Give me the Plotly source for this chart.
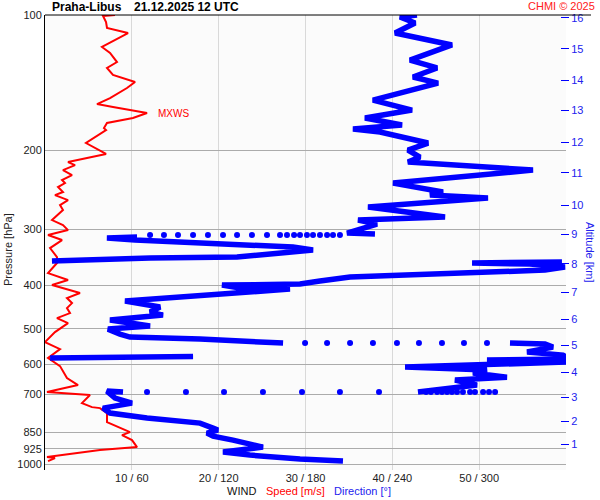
import numpy as np
import plotly.graph_objects as go

# ---------------- data ----------------
# wind speed profile (red)
speed_p = [100.0, 100.5, 103.7, 106.9, 109.7, 117.8, 121.5, 127.3, 131.2, 136.0, 141.0, 145.4,
           153.1, 157.9, 160.3, 165.3, 169.6, 174.0, 178.6, 180.4, 192.8, 203.9, 212.6, 215.9,
           221.5, 227.2, 233.1, 236.8, 241.6, 247.9, 251.8, 258.3, 265.0, 271.9, 286.2, 293.7,
           301.3, 309.0, 317.1, 330.4, 346.0, 356.7, 375.6, 389.3, 399.4, 416.1, 426.9, 438.1,
           449.4, 461.1, 473.1, 485.4, 508.3, 535.0, 554.6, 580.7, 605.1, 643.5, 667.0, 691.4,
           702.1, 731.6, 746.9, 750.6, 770.1, 806.4, 848.9, 862.0, 884.5, 916.7, 931.0, 965.0,
           969.8, 984.8]
speed_ms = [8.06, 6.68, 7.03, 7.14, 9.56, 6.56, 7.49, 8.29, 7.14, 7.83, 10.37, 9.44,
            7.49, 5.99, 7.83, 11.75, 10.13, 7.14, 6.79, 7.03, 4.72, 7.03, 2.65, 3.46,
            2.07, 3.11, 1.96, 2.30, 1.50, 2.07, 1.15, 2.65, 1.73, 2.07, 0.81, 2.07,
            2.65, 0.35, 1.96, 0.58, 1.38, 1.38, 0.35, 2.65, 0.81, 4.03, 2.53, 3.11,
            2.53, 2.88, 1.38, 2.65, 1.15, 0.0, 1.73, 0.35, 1.73, 2.53, 3.80, 0.23,
            5.18, 4.26, 5.41, 6.33, 7.14, 7.14, 9.79, 8.87, 10.02, 10.60, 6.33, 0.23,
            1.15, 0.35]

# wind direction profile (blue), None separates pieces of the trace
dir_p = [100.0, 101.0, 104.2, 109.7, 116.6, 126.0, 131.2, 137.4, 141.8, 154.7, 162.8, 169.6,
         175.8, 179.5, 182.2, 192.8, 199.9, 207.2, 212.6, 221.5, 236.8, 247.9, 251.8, 255.6,
         267.7, 281.8, 286.2, 292.1, 305.9, 307.4, None,
         312.2, 313.8, 317.1, 322.0, 328.7, 333.8, 337.2, 346.0, 347.8, 349.5, 353.1, None,
         354.9, 356.7, 358.6, 364.2, 369.8, 373.7, 375.6, 383.4, 391.3, 397.4, 399.4, 405.6,
         407.7, 416.1, 422.6, 433.6, 447.1, 458.7, 465.9, 478.0, 492.9, 500.6, 513.5, 521.5,
         526.9, 537.8, None,
         537.8, 540.5, 549.0, 563.1, 571.9, 577.8, None,
         576.0, 579.0, 580.5, None,
         583.7, 586.7, 592.8, 608.3, 617.6, 627.3, 640.7, 650.1, 667.0, 684.3, 691.4, None,
         691.4, 687.8, 712.9, 731.6, 750.6, 770.1, 790.1, 810.6, 831.7, 840.2, 853.3, 866.6,
         884.5, 916.7, 940.4, 955.1, 974.8, 984.8]
dir_deg = [257.0, 245.3, 255.7, 241.9, 281.2, 252.2, 270.9, 254.3, 271.6, 226.6, 253.6, 221.1,
           246.7, 212.8, 231.5, 264.7, 250.8, 259.1, 250.8, 337.2, 240.5, 275.0, 266.0, 306.1,
           223.2, 276.4, 216.3, 229.4, 208.7, 228.0, None,
           63.6, 42.8, 62.2, 107.1, 171.4, 185.2, 171.4, 132.7, 72.6, 34.6, 4.8, None,
           357.2, 295.1, 335.1, 359.3, 345.5, 307.5, 275.0, 210.8, 190.0, 176.2, 122.3, 134.7,
           169.3, 127.8, 93.3, 55.3, 79.5, 72.6, 81.5, 44.9, 72.6, 43.5, 51.8, 58.7,
           107.1, 164.5, None,
           321.3, 345.5, 351.0, 333.1, 357.9, 360.0, None,
           102.3, 10.4, 3.5, None,
           360.0, 305.4, 360.0, 248.8, 305.4, 295.7, 319.2, 283.3, 298.5, 266.0, 257.7, None,
           53.9, 42.8, 48.4, 60.1, 40.1, 44.9, 70.5, 107.1, 116.1, 119.5, 111.9, 116.1,
           129.9, 150.6, 123.0, 141.6, 176.2, 205.9]

# isolated direction samples where the direction turned quickly
jump_p = [309.0] * 19 + [537.8] * 9 + [691.4] * 20
jump_deg = [203.8, 199.0, 194.9, 190.0, 185.2, 181.0, 176.2, 172.1, 167.2, 162.4, 153.4, 143.0,
            132.7, 123.0, 112.6, 102.3, 91.9, 82.2, 72.6,
            179.7, 194.9, 210.8, 226.6, 243.2, 258.4, 274.3, 289.5, 305.4,
            263.3, 266.7, 270.9, 274.3, 277.8, 281.2, 284.7, 288.8, 293.7, 297.1, 302.7, 306.8,
            311.0, 230.8, 203.8, 177.6, 150.6, 123.7, 97.4, 70.5]

p_ticks = [100, 200, 300, 400, 500, 600, 700, 850, 925, 1000]
alt_km = list(range(1, 17))
alt_p = [902.6, 802.0, 709.1, 623.8, 543.2, 475.5, 414.0, 358.5, 307.4, 265.0,
         224.8, 191.8, 162.8, 139.6, 119.0, 101.5]
speed_ticks = [10, 20, 30, 40, 50, 60]
dir_ticks = [60, 120, 180, 240, 300, 360]

# ---------------- figure ----------------
BLUE = "#0000ff"
RED = "#ff0000"
FONT = "Arial, Liberation Sans, sans-serif"

fig = go.Figure()

fig.add_trace(go.Scatter(x=dir_deg, y=dir_p, xaxis="x2", yaxis="y", mode="lines",
                         line=dict(color=BLUE, width=5.5), connectgaps=False, hoverinfo="skip"))
fig.add_trace(go.Scatter(x=jump_deg, y=jump_p, xaxis="x2", yaxis="y", mode="markers",
                         marker=dict(color=BLUE, size=6), hoverinfo="skip"))
fig.add_trace(go.Scatter(x=speed_ms, y=speed_p, mode="lines",
                         line=dict(color=RED, width=2), hoverinfo="skip"))
# invisible anchor for the altitude axis
fig.add_trace(go.Scatter(x=[30], y=[500], yaxis="y2", mode="markers",
                         marker=dict(opacity=0), hoverinfo="skip"))

imax = int(np.argmax(speed_ms))
v_max, p_max = speed_ms[imax], speed_p[imax]

yrange = [np.log10(1031), 2]

tick_text = [f"{s} / {d}" if s < 60 else "" for s, d in zip(speed_ticks, dir_ticks)]

fig.update_layout(
    width=600, height=500,
    margin=dict(l=45, r=34, t=15, b=30),
    paper_bgcolor="#ffffff", plot_bgcolor="#fbfbfb",
    showlegend=False,
    font=dict(family=FONT, size=11, color="#222222"),
    xaxis=dict(range=[0, 60], tickvals=speed_ticks, ticktext=tick_text,
               showgrid=True, gridcolor="#d9d9d9", gridwidth=1, zeroline=False,
               showline=False, ticks="", tickfont=dict(size=11, color="#222222"),
               automargin=False),
    xaxis2=dict(range=[0, 360], overlaying="x", visible=False),
    yaxis=dict(type="log", range=yrange, tickvals=p_ticks,
               ticktext=[str(p) for p in p_ticks],
               showgrid=True, gridcolor="#ababab", gridwidth=1, zeroline=False,
               showline=True, linecolor="#000000", linewidth=1, ticks="",
               tickfont=dict(size=11, color="#222222"), automargin=False),
    yaxis2=dict(type="log", range=yrange, overlaying="y", side="right",
                anchor="free", position=0.9885, tickvals=alt_p,
                ticktext=[str(k) for k in alt_km],
                ticks="outside", ticklen=8, tickwidth=1, tickcolor=BLUE,
                tickfont=dict(size=11, color="#2222ee"),
                showgrid=False, showline=False, zeroline=False, automargin=False),
)

# top frame line (extends past the plot to the right)
fig.add_shape(type="line", xref="paper", yref="paper", x0=0, x1=1.048, y0=1, y1=1,
              line=dict(color="#000000", width=1))
# max wind markers
fig.add_shape(type="line", xref="paper", yref="y", x0=-0.004, x1=0.021,
              y0=np.log10(p_max), y1=np.log10(p_max), line=dict(color=RED, width=1))
fig.add_shape(type="line", xref="paper", yref="y", x0=0.979, x1=1.002,
              y0=np.log10(p_max), y1=np.log10(p_max), line=dict(color=RED, width=1))
fig.add_annotation(x=v_max, y=np.log10(p_max), xref="x", yref="y", text="MXWS",
                   showarrow=False, xanchor="left", yanchor="middle", xshift=9,
                   font=dict(size=10, color=RED, family=FONT))

# titles
fig.add_annotation(x=(50 - 45) / 521, y=1 + 8 / 455, xref="paper", yref="paper",
                   text="<b>Praha-Libus</b>", showarrow=False, xanchor="left", yanchor="middle",
                   font=dict(size=12, color="#000000", family=FONT))
fig.add_annotation(x=(132 - 45) / 521, y=1 + 8 / 455, xref="paper", yref="paper",
                   text="<b>21.12.2025 12 UTC</b>", showarrow=False, xanchor="left",
                   yanchor="middle", font=dict(size=12, color="#000000", family=FONT))
fig.add_annotation(x=(597 - 45) / 521, y=1 + 9 / 455, xref="paper", yref="paper",
                   text="CHMI © 2025", showarrow=False, xanchor="right", yanchor="middle",
                   font=dict(size=11, color="#ff2020", family=FONT))

fig.add_annotation(x=(8 - 45) / 521, y=(470 - 250) / 455, xref="paper", yref="paper",
                   text="Pressure [hPa]", showarrow=False, textangle=-90,
                   xanchor="center", yanchor="middle",
                   font=dict(size=11, color="#222222", family=FONT))
fig.add_annotation(x=(590 - 45) / 521, y=(470 - 252) / 455, xref="paper", yref="paper",
                   text="Altitude [km]", showarrow=False, textangle=90,
                   xanchor="center", yanchor="middle",
                   font=dict(size=11, color="#2222ee", family=FONT))

# bottom legend text
for txt, px, col in [("WIND", 225, "#111111"), ("Speed [m/s]", 264, RED),
                     ("Direction [°]", 332, "#2222ee")]:
    fig.add_annotation(x=(px - 45) / 521, y=(470 - 491) / 455, xref="paper", yref="paper",
                       text=txt, showarrow=False, xanchor="left", yanchor="middle",
                       font=dict(size=11, color=col, family=FONT))

fig.write_html("out.html", config={"displayModeBar": False},
               post_script="document.body.style.margin='0';")
